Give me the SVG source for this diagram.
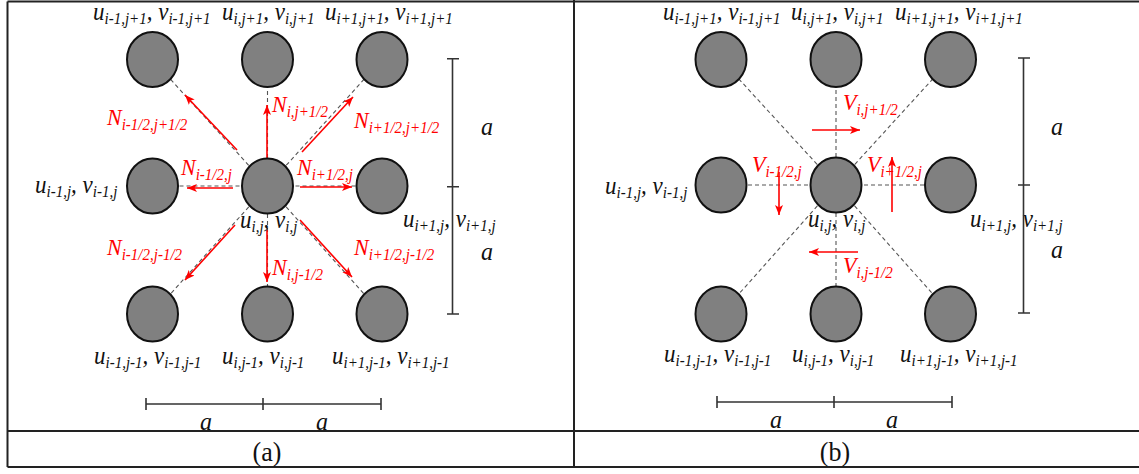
<svg xmlns="http://www.w3.org/2000/svg" width="1139" height="474" viewBox="0 0 1139 474">
<defs>
<style>
.frame{stroke:#222;stroke-width:2;fill:none}
.node{fill:#808080;stroke:#111;stroke-width:2}
.dash{stroke:#555;stroke-width:1.1;stroke-dasharray:4 3;fill:none}
.red{stroke:#ff0000;stroke-width:1.6;fill:none;marker-end:url(#ah)}
.bar{stroke:#333;stroke-width:1.6;fill:none}
.lbl{font-family:"Liberation Serif","Times New Roman",serif;font-style:italic;font-size:23px;fill:#111}
.rl{font-family:"Liberation Serif","Times New Roman",serif;font-style:italic;font-size:22px;fill:#ff0000}
.s{font-size:15px}
.cap{font-family:"Liberation Serif","Times New Roman",serif;font-size:26px;fill:#111;text-anchor:middle}
.sa{font-family:"Liberation Serif","Times New Roman",serif;font-style:italic;font-size:24px;fill:#111;text-anchor:middle}
</style>
<marker id="ah" viewBox="0 0 10 8" refX="10" refY="4" markerWidth="10" markerHeight="8" markerUnits="userSpaceOnUse" orient="auto">
<path d="M0,0 L10,4 L0,8 L2.5,4 Z" fill="#ff0000"/>
</marker>
</defs>
<rect width="1139" height="474" fill="#fff"/>
<g id="table">
<path class="frame" d="M7.5,1.5 H1139 M7.5,1.5 V467 M574,0 V467 M7.5,431 H1139 M7.5,467 H1139"/>
</g>
<g id="connectors">
<path class="dash" d="M267.5,186 L152.5,59.5 M267.5,186 L267.5,59.5 M267.5,186 L382,59.5 M267.5,186 L152.5,186 M267.5,186 L382,186 M267.5,186 L152.5,314 M267.5,186 L267.5,314 M267.5,186 L382,314"/>
<line class="red" x1="267" y1="160" x2="267" y2="105"/>
<line class="red" x1="237" y1="150" x2="185" y2="95"/>
<line class="red" x1="302" y1="152" x2="353" y2="97"/>
<line class="red" x1="233" y1="188" x2="187" y2="188"/>
<line class="red" x1="300" y1="187" x2="352" y2="187"/>
<line class="red" x1="235" y1="225" x2="185" y2="280"/>
<line class="red" x1="267" y1="230" x2="267" y2="282"/>
<line class="red" x1="300" y1="220" x2="352" y2="277"/>
<path class="dash" d="M836,185 L721,59.5 M836,185 L836,59.5 M836,185 L950.5,59.5 M836,185 L721,185 M836,185 L950.5,185 M836,185 L721,314 M836,185 L836,314 M836,185 L950.5,314"/>
<line class="red" x1="812" y1="130" x2="860" y2="130"/>
<line class="red" x1="779" y1="172" x2="779" y2="215"/>
<line class="red" x1="892" y1="212" x2="892" y2="157"/>
<line class="red" x1="858" y1="252" x2="809" y2="252"/>
</g>
<g id="nodes-a">
<g id="a-i-1-j+1"><ellipse class="node" cx="152.5" cy="59.5" rx="25.5" ry="27.5"/></g>
<g id="a-i-j+1"><ellipse class="node" cx="267.5" cy="59.5" rx="25.5" ry="27.5"/></g>
<g id="a-i+1-j+1"><ellipse class="node" cx="382" cy="59.5" rx="25.5" ry="27.5"/></g>
<g id="a-i-1-j"><ellipse class="node" cx="152.5" cy="186" rx="25.5" ry="27.5"/></g>
<g id="a-i-j"><ellipse class="node" cx="267.5" cy="186" rx="25.5" ry="27.5"/></g>
<g id="a-i+1-j"><ellipse class="node" cx="382" cy="186" rx="25.5" ry="27.5"/></g>
<g id="a-i-1-j-1"><ellipse class="node" cx="152.5" cy="314" rx="25.5" ry="27.5"/></g>
<g id="a-i-j-1"><ellipse class="node" cx="267.5" cy="314" rx="25.5" ry="27.5"/></g>
<g id="a-i+1-j-1"><ellipse class="node" cx="382" cy="314" rx="25.5" ry="27.5"/></g>
</g>
<g id="nodes-b">
<g id="b-i-1-j+1"><ellipse class="node" cx="721" cy="59.5" rx="25.5" ry="27.5"/></g>
<g id="b-i-j+1"><ellipse class="node" cx="836" cy="59.5" rx="25.5" ry="27.5"/></g>
<g id="b-i+1-j+1"><ellipse class="node" cx="950.5" cy="59.5" rx="25.5" ry="27.5"/></g>
<g id="b-i-1-j"><ellipse class="node" cx="721" cy="185" rx="25.5" ry="27.5"/></g>
<g id="b-i-j"><ellipse class="node" cx="836" cy="185" rx="25.5" ry="27.5"/></g>
<g id="b-i+1-j"><ellipse class="node" cx="950.5" cy="185" rx="25.5" ry="27.5"/></g>
<g id="b-i-1-j-1"><ellipse class="node" cx="721" cy="314" rx="25.5" ry="27.5"/></g>
<g id="b-i-j-1"><ellipse class="node" cx="836" cy="314" rx="25.5" ry="27.5"/></g>
<g id="b-i+1-j-1"><ellipse class="node" cx="950.5" cy="314" rx="25.5" ry="27.5"/></g>
</g>
<g id="labels-a" transform="scale(1 1.08)">
<text class="lbl" x="93" y="18.1">u<tspan class="s" dy="4">i-1,j+1</tspan><tspan dy="-4">, v</tspan><tspan class="s" dy="4">i-1,j+1</tspan></text>
<text class="lbl" x="222" y="18.1">u<tspan class="s" dy="4">i,j+1</tspan><tspan dy="-4">, v</tspan><tspan class="s" dy="4">i,j+1</tspan></text>
<text class="lbl" x="325" y="18.1">u<tspan class="s" dy="4">i+1,j+1</tspan><tspan dy="-4">, v</tspan><tspan class="s" dy="4">i+1,j+1</tspan></text>
<text class="lbl" x="35" y="178.7">u<tspan class="s" dy="4">i-1,j</tspan><tspan dy="-4">, v</tspan><tspan class="s" dy="4">i-1,j</tspan></text>
<text class="lbl" x="240" y="211.1">u<tspan class="s" dy="4">i,j</tspan><tspan dy="-4">, v</tspan><tspan class="s" dy="4">i,j</tspan></text>
<text class="lbl" x="403" y="210.2">u<tspan class="s" dy="4">i+1,j</tspan><tspan dy="-4">, v</tspan><tspan class="s" dy="4">i+1,j</tspan></text>
<text class="lbl" x="94" y="337">u<tspan class="s" dy="4">i-1,j-1</tspan><tspan dy="-4">, v</tspan><tspan class="s" dy="4">i-1,j-1</tspan></text>
<text class="lbl" x="222" y="337">u<tspan class="s" dy="4">i,j-1</tspan><tspan dy="-4">, v</tspan><tspan class="s" dy="4">i,j-1</tspan></text>
<text class="lbl" x="332" y="337">u<tspan class="s" dy="4">i+1,j-1</tspan><tspan dy="-4">, v</tspan><tspan class="s" dy="4">i+1,j-1</tspan></text>
<text class="rl" x="107" y="115.7">N<tspan class="s" dy="5">i-1/2,j+1/2</tspan></text>
<text class="rl" x="272" y="103.7">N<tspan class="s" dy="5">i,j+1/2</tspan></text>
<text class="rl" x="354" y="118.5">N<tspan class="s" dy="5">i+1/2,j+1/2</tspan></text>
<text class="rl" x="181" y="162">N<tspan class="s" dy="5">i-1/2,j</tspan></text>
<text class="rl" x="297" y="162">N<tspan class="s" dy="5">i+1/2,j</tspan></text>
<text class="rl" x="107" y="236.1">N<tspan class="s" dy="5">i-1/2,j-1/2</tspan></text>
<text class="rl" x="272" y="254.6">N<tspan class="s" dy="5">i,j-1/2</tspan></text>
<text class="rl" x="354" y="236.1">N<tspan class="s" dy="5">i+1/2,j-1/2</tspan></text>
</g>
<g id="labels-b" transform="scale(1 1.08)">
<text class="lbl" x="663" y="18.1">u<tspan class="s" dy="4">i-1,j+1</tspan><tspan dy="-4">, v</tspan><tspan class="s" dy="4">i-1,j+1</tspan></text>
<text class="lbl" x="791" y="18.1">u<tspan class="s" dy="4">i,j+1</tspan><tspan dy="-4">, v</tspan><tspan class="s" dy="4">i,j+1</tspan></text>
<text class="lbl" x="895" y="18.1">u<tspan class="s" dy="4">i+1,j+1</tspan><tspan dy="-4">, v</tspan><tspan class="s" dy="4">i+1,j+1</tspan></text>
<text class="lbl" x="605" y="179.6">u<tspan class="s" dy="4">i-1,j</tspan><tspan dy="-4">, v</tspan><tspan class="s" dy="4">i-1,j</tspan></text>
<text class="lbl" x="808" y="210.2">u<tspan class="s" dy="4">i,j</tspan><tspan dy="-4">, v</tspan><tspan class="s" dy="4">i,j</tspan></text>
<text class="lbl" x="970" y="210.2">u<tspan class="s" dy="4">i+1,j</tspan><tspan dy="-4">, v</tspan><tspan class="s" dy="4">i+1,j</tspan></text>
<text class="lbl" x="664" y="335.2">u<tspan class="s" dy="4">i-1,j-1</tspan><tspan dy="-4">, v</tspan><tspan class="s" dy="4">i-1,j-1</tspan></text>
<text class="lbl" x="792" y="335.2">u<tspan class="s" dy="4">i,j-1</tspan><tspan dy="-4">, v</tspan><tspan class="s" dy="4">i,j-1</tspan></text>
<text class="lbl" x="900" y="335.2">u<tspan class="s" dy="4">i+1,j-1</tspan><tspan dy="-4">, v</tspan><tspan class="s" dy="4">i+1,j-1</tspan></text>
<text class="rl" x="843" y="101.9">V<tspan class="s" dy="5">i,j+1/2</tspan></text>
<text class="rl" x="752" y="159.3">V<tspan class="s" dy="5">i-1/2,j</tspan></text>
<text class="rl" x="867" y="159.3">V<tspan class="s" dy="5">i+1/2,j</tspan></text>
<text class="rl" x="843" y="252.8">V<tspan class="s" dy="5">i,j-1/2</tspan></text>
</g>
<g id="scales">
<path class="bar" d="M452.5,58.7 V314 M447,58.7 H459 M447,186.7 H459 M447,314 H459"/>
<path class="bar" d="M1023.5,58 V313 M1018,58 H1030 M1018,185 H1030 M1018,313 H1030"/>
<path class="bar" d="M146,404 H381 M146,398 V410 M263,398 V410 M381,398 V410"/>
<path class="bar" d="M717,402 H952 M717,396 V408 M834,396 V408 M952,396 V408"/>
<g transform="scale(1 1.08)">
<text class="sa" x="487" y="125">a</text>
<text class="sa" x="487" y="240.7">a</text>
<text class="sa" x="1057" y="125">a</text>
<text class="sa" x="1057" y="238.9">a</text>
<text class="sa" x="206" y="398.1">a</text>
<text class="sa" x="322" y="398.1">a</text>
<text class="sa" x="776" y="396.3">a</text>
<text class="sa" x="892" y="396.3">a</text>
</g>
</g>
<g id="captions" transform="scale(1 1.08)">
<text class="cap" x="267" y="426.9">(a)</text>
<text class="cap" x="835" y="426.9">(b)</text>
</g>
</svg>
